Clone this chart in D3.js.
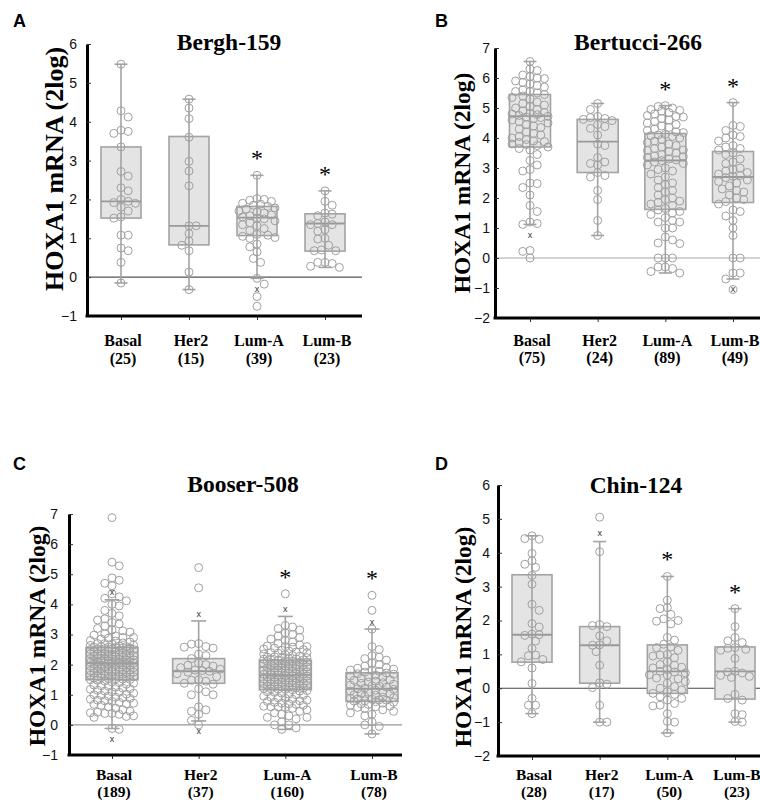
<!DOCTYPE html>
<html>
<head>
<meta charset="utf-8">
<script src="https://cdn.jsdelivr.net/npm/d3@7"></script>
<style>
  body { margin: 0; background: #fff; }
  svg text { font-family: "Liberation Serif", "Times New Roman", serif; }
  .panel-letter { font-family: "Liberation Sans", Arial, sans-serif; font-weight: bold; font-size: 18px; }
  .title { font-weight: bold; font-size: 23.5px; }
  .y-label { font-weight: bold; }
  .cat-label { font-weight: bold; }
  .tick text { font-family: "Liberation Sans", Arial, sans-serif; font-size: 14px; fill: #111; }
</style>
</head>
<body>
<svg id="chart" width="760" height="800"></svg>
<script>
const subtypes = ['Basal', 'Her2', 'Lum-A', 'Lum-B'];
const starred = [false, false, true, true];

// Bergh-159
const berghCounts = [25, 15, 39, 23];
// [lower whisker, q1, median, q3, upper whisker]
const berghBoxes = [
  [-0.15, 1.52, 1.95, 3.35, 5.48],
  [-0.32, 0.83, 1.32, 3.62, 4.58],
  [-0.03, 1.07, 1.53, 1.82, 2.62],
  [0.25, 0.67, 1.38, 1.63, 2.22]
];
const berghPoints = [
  [5.48, 4.28, 4.12, 3.78, 3.75, 3.7, 3.35, 2.72, 2.6, 2.3, 2.22, 2.0, 1.95, 1.92, 1.9, 1.8, 1.7, 1.55, 1.52, 1.08, 1.08, 0.75, 0.68, 0.38, -0.15],
  [4.58, 4.35, 4.08, 3.6, 2.98, 2.73, 2.35, 1.32, 1.32, 1.12, 0.93, 0.82, 0.68, 0.13, -0.32],
  [2.62, 2.02, 2.0, 1.98, 1.95, 1.9, 1.88, 1.85, 1.82, 1.78, 1.75, 1.7, 1.68, 1.65, 1.6, 1.58, 1.55, 1.52, 1.5, 1.45,
   1.4, 1.35, 1.32, 1.25, 1.2, 1.1, 1.08, 1.05, 1.02, 1.0, 0.85, 0.78, 0.65, 0.48, 0.38, -0.03, -0.18, -0.5, -0.75],
  [2.22, 1.95, 1.85, 1.65, 1.62, 1.58, 1.42, 1.38, 1.35, 1.35, 1.22, 1.18, 1.0, 0.98, 0.82, 0.7, 0.68, 0.68, 0.38, 0.38, 0.35, 0.28, 0.25]
];
const berghOutliers = [[], [], [-0.32], []];

// Bertucci-266
const bertucciCounts = [75, 24, 89, 49];
const bertucciBoxes = [
  [1.12, 3.7, 4.73, 5.45, 6.55],
  [0.75, 2.85, 3.88, 4.62, 5.15],
  [-0.5, 1.62, 3.25, 4.15, 5.08],
  [-0.7, 1.85, 2.7, 3.55, 5.18]
];
const bertucciPoints = [
  [6.55, 6.3, 6.25, 6.1, 6.05, 6.0, 5.98, 5.9, 5.85, 5.8, 5.75, 5.7, 5.6, 5.55, 5.55, 5.5, 5.45, 5.4, 5.35, 5.3,
   5.2, 5.15, 5.1, 5.05, 5.0, 4.95, 4.9, 4.85, 4.82, 4.8, 4.78, 4.75, 4.72, 4.7, 4.68, 4.65, 4.6, 4.55, 4.5, 4.45,
   4.4, 4.35, 4.3, 4.2, 4.15, 4.1, 4.05, 4.0, 3.95, 3.9, 3.88, 3.85, 3.8, 3.78, 3.75, 3.7, 3.65, 3.6, 3.45, 3.25,
   3.1, 2.95, 2.9, 2.5, 2.48, 2.35, 2.1, 1.75, 1.55, 1.2, 1.15, 1.12, 0.25, 0.22, 0.0],
  [5.15, 4.95, 4.72, 4.68, 4.65, 4.62, 4.58, 4.45, 4.38, 4.32, 4.1, 3.8, 3.75, 3.35, 3.2, 3.15, 3.1, 2.85, 2.75, 2.7,
   2.25, 1.95, 1.25, 0.75],
  [5.08, 5.05, 5.0, 4.95, 4.92, 4.9, 4.85, 4.8, 4.75, 4.72, 4.7, 4.65, 4.6, 4.55, 4.5, 4.45, 4.4, 4.35, 4.3, 4.25,
   4.2, 4.18, 4.12, 4.1, 4.08, 4.05, 4.0, 3.95, 3.9, 3.85, 3.8, 3.75, 3.7, 3.65, 3.6, 3.58, 3.55, 3.5, 3.45, 3.4,
   3.38, 3.35, 3.3, 3.27, 3.25, 3.2, 3.15, 3.1, 3.0, 2.95, 2.9, 2.8, 2.7, 2.6, 2.5, 2.45, 2.35, 2.25, 2.2, 2.1,
   2.0, 1.95, 1.9, 1.85, 1.8, 1.75, 1.65, 1.6, 1.55, 1.5, 1.45, 1.35, 1.25, 1.2, 1.2, 1.0, 1.0, 0.7, 0.6, 0.5,
   0.48, 0.0, 0.0, 0.0, -0.3, -0.3, -0.35, -0.45, -0.5],
  [5.18, 4.42, 4.38, 4.25, 4.1, 4.05, 4.0, 3.9, 3.75, 3.7, 3.65, 3.6, 3.5, 3.45, 3.3, 3.2, 3.15, 3.0, 2.95, 2.9,
   2.85, 2.8, 2.75, 2.72, 2.68, 2.6, 2.55, 2.5, 2.4, 2.3, 2.25, 2.2, 2.1, 2.0, 1.95, 1.88, 1.8, 1.6, 1.55, 1.4,
   1.25, 1.0, 0.75, 0.0, 0.0, -0.5, -0.5, -0.7, -1.05]
];
const bertucciOutliers = [[0.75], [], [], [-1.05]];

// Booser-508
const booserCounts = [189, 37, 160, 78];
const booserBoxes = [
  [-0.12, 1.5, 2.05, 2.57, 4.15],
  [0.13, 1.38, 1.78, 2.2, 3.45],
  [-0.15, 1.17, 1.65, 2.15, 3.6],
  [-0.3, 0.78, 1.2, 1.73, 3.18]
];
const booserPoints = [
  [6.88, 5.4, 5.28, 4.88, 4.8, 4.7, 4.62, 4.35, 4.25, 4.2, 4.12, 4.0, 3.95, 3.8, 3.7, 3.62, 3.52, 3.48, 3.4, 3.35,
   3.28, 3.2, 3.15, 3.12, 3.08, 3.02, 2.98, 2.95, 2.9, 2.88, 2.85, 2.8, 2.78, 2.75, 2.72, 2.7, 2.68, 2.65, 2.64, 2.62,
   2.6, 2.6, 2.58, 2.58, 2.57, 2.7, 2.9,
   2.56, 2.55, 2.53, 2.52, 2.5, 2.5, 2.48, 2.47, 2.45, 2.43, 2.42, 2.4, 2.38, 2.37, 2.35, 2.33, 2.32, 2.3, 2.3, 2.28,
   2.26, 2.25, 2.22, 2.2, 2.2, 2.18, 2.17, 2.15, 2.14, 2.12, 2.12, 2.1, 2.1, 2.09, 2.08, 2.07, 2.06, 2.06, 2.05,
   2.44, 2.36, 2.27, 2.19, 2.11, 2.52, 2.29, 2.16,
   2.04, 2.03, 2.02, 2.0, 2.0, 1.98, 1.97, 1.95, 1.94, 1.92, 1.9, 1.9, 1.88, 1.87, 1.85, 1.84, 1.82, 1.8, 1.8, 1.78,
   1.77, 1.75, 1.74, 1.72, 1.7, 1.7, 1.68, 1.67, 1.65, 1.64, 1.62, 1.6, 1.6, 1.58, 1.57, 1.55, 1.54, 1.52, 1.51, 1.5,
   1.99, 1.91, 1.83, 1.76, 1.69, 1.61, 1.53,
   1.48, 1.45, 1.42, 1.4, 1.38, 1.35, 1.32, 1.3, 1.28, 1.25, 1.22, 1.2, 1.18, 1.15, 1.12, 1.1, 1.08, 1.05, 1.02, 1.0,
   0.98, 0.95, 0.92, 0.9, 0.88, 0.85, 0.82, 0.8, 0.78, 0.75, 0.72, 0.7, 0.68, 0.65, 0.6, 0.55, 0.5, 0.45, 0.42, 0.4,
   0.38, 0.38, 0.35, 0.3, 0.28, 0.25, -0.12, -0.15],
  [5.22, 4.55, 2.7, 2.68, 2.6, 2.58, 2.55, 2.35, 2.3, 2.2, 2.05, 2.0, 1.98, 1.95, 1.9, 1.85, 1.82, 1.8, 1.78, 1.75,
   1.7, 1.6, 1.5, 1.48, 1.45, 1.38, 1.35, 1.2, 1.1, 1.0, 1.0, 0.6, 0.5, 0.45, 0.35, 0.15, 0.0],
  [4.35, 3.3, 3.25, 3.2, 3.15, 3.05, 3.0, 2.95, 2.9, 2.85, 2.8, 2.75, 2.7, 2.65, 2.62, 2.6, 2.58, 2.55, 2.52, 2.5,
   2.48, 2.45, 2.42, 2.4, 2.38, 2.35, 2.33, 2.3, 2.28, 2.26, 2.25, 2.23, 2.22, 2.2, 2.19, 2.18, 2.17, 2.16, 2.6, 2.4,
   2.14, 2.13, 2.12, 2.1, 2.08, 2.06, 2.05, 2.03, 2.02, 2.0, 1.98, 1.97, 1.95, 1.94, 1.92, 1.9, 1.89, 1.88, 1.86, 1.85,
   1.83, 1.82, 1.8, 1.79, 1.78, 1.76, 1.75, 1.74, 1.72, 1.71, 1.7, 1.69, 1.68, 1.67, 1.66, 2.09, 1.99, 1.91, 1.81, 1.73,
   1.64, 1.63, 1.62, 1.6, 1.59, 1.58, 1.56, 1.55, 1.54, 1.52, 1.51, 1.5, 1.48, 1.47, 1.46, 1.45, 1.43, 1.42, 1.41, 1.4,
   1.38, 1.37, 1.36, 1.35, 1.33, 1.32, 1.31, 1.3, 1.28, 1.27, 1.26, 1.25, 1.23, 1.22, 1.21, 1.2, 1.19, 1.18, 1.57, 1.39,
   1.16, 1.14, 1.12, 1.1, 1.08, 1.05, 1.02, 1.0, 0.98, 0.95, 0.92, 0.9, 0.88, 0.85, 0.82, 0.8, 0.78, 0.75, 0.72, 0.7,
   0.68, 0.65, 0.62, 0.6, 0.6, 0.58, 0.55, 0.5, 0.45, 0.4, 0.35, 0.3, 0.25, 0.25, 0.2, 0.1, 0.0, 0.0, -0.1, -0.15],
  [4.3, 3.8, 3.18, 2.6, 2.5, 2.3, 2.25, 2.2, 2.15, 2.05, 2.0, 1.95, 1.9, 1.88, 1.85, 1.82, 1.8, 1.78, 1.75,
   1.72, 1.7, 1.68, 1.65, 1.62, 1.6, 1.58, 1.55, 1.5, 1.48, 1.45, 1.42, 1.4, 1.38, 1.35, 1.32, 1.3, 1.28, 1.25, 1.22,
   1.2, 1.18, 1.15, 1.12, 1.1, 1.08, 1.05, 1.02, 1.0, 0.98, 0.95, 0.92, 0.9, 0.88, 0.86, 0.85, 0.83, 0.82, 0.8, 0.79,
   0.77, 0.75, 0.72, 0.7, 0.68, 0.65, 0.62, 0.6, 0.58, 0.55, 0.5, 0.45, 0.4, 0.35, 0.3, 0.1, 0.0, -0.05, -0.3]
];
const booserOutliers = [[4.4, -0.48], [3.68, -0.22], [3.83], [3.4]];

// Chin-124
const chinCounts = [28, 17, 50, 23];
const chinBoxes = [
  [-0.75, 0.77, 1.58, 3.35, 4.5],
  [-1.0, 0.15, 1.27, 1.82, 4.33],
  [-1.32, -0.15, 0.5, 1.28, 3.3],
  [-1.0, -0.32, 0.5, 1.22, 2.35]
];
const chinPoints = [
  [4.5, 4.42, 4.4, 3.98, 3.76, 3.66, 3.57, 3.33, 3.07, 2.48, 2.3, 1.91, 1.81, 1.6, 1.58, 1.56, 1.39, 1.18, 0.98, 0.96,
   0.85, 0.78, 0.6, 0.14, -0.3, -0.5, -0.5, -0.75],
  [5.05, 4.03, 1.88, 1.85, 1.82, 1.55, 1.4, 1.28, 1.27, 1.08, 0.68, 0.16, 0.12, 0.02, -0.5, -1.0, -1.0],
  [3.3, 2.6, 2.38, 2.35, 2.18, 2.05, 2.0, 1.98, 1.9, 1.5, 1.42, 1.3, 1.22, 1.2, 1.12, 1.0, 0.98, 0.95, 0.9, 0.78,
   0.7, 0.68, 0.62, 0.6, 0.55, 0.5, 0.48, 0.45, 0.4, 0.38, 0.3, 0.28, 0.2, 0.15, 0.05, 0.0, -0.05, -0.1, -0.15, -0.18,
   -0.25, -0.3, -0.35, -0.45, -0.5, -0.52, -0.75, -0.98, -1.0, -1.32],
  [2.35, 1.82, 1.5, 1.4, 1.35, 1.2, 1.18, 1.15, 1.12, 0.88, 0.5, 0.48, 0.45, 0.38, 0.35, 0.32, -0.18, -0.3, -0.35,
   -0.75, -0.78, -0.98, -1.0]
];
const chinOutliers = [[], [4.58], [], []];

// layout of the four panels
const panels = [
  {letter: 'A', title: 'Bergh-159', counts: berghCounts, boxes: berghBoxes, points: berghPoints, outliers: berghOutliers,
   domain: [-1, 6], yTop: 44, yBottom: 316, axisX: 87, axisEnd: 362, xRange: [121, 325], boxW: 40, capW: 13,
   tickGap: 10, zeroColor: '#555', titleX: 229, titleY: 50, letterX: 13, letterY: 27,
   yLabX: 54, yLabY: 169, yLabSize: 26, catY: [346, 364], catSize: 16},
  {letter: 'B', title: 'Bertucci-266', counts: bertucciCounts, boxes: bertucciBoxes, points: bertucciPoints, outliers: bertucciOutliers,
   domain: [-2, 7], yTop: 48, yBottom: 318, axisX: 495, axisEnd: 760, xRange: [530, 733], boxW: 41, capW: 13,
   tickGap: 5, zeroColor: '#aaa', titleX: 638, titleY: 50, letterX: 435, letterY: 27,
   yLabX: 462, yLabY: 183, yLabSize: 23.5, catY: [346, 363], catSize: 16},
  {letter: 'C', title: 'Booser-508', counts: booserCounts, boxes: booserBoxes, points: booserPoints, outliers: booserOutliers,
   domain: [-1, 7], yTop: 514, yBottom: 755, axisX: 69, axisEnd: 402, xRange: [112, 372], boxW: 52, capW: 15,
   tickGap: 11, zeroColor: '#999', titleX: 243, titleY: 492, letterX: 13, letterY: 470,
   yLabX: 37, yLabY: 636, yLabSize: 23.5, catY: [780, 797], catSize: 15.5},
  {letter: 'D', title: 'Chin-124', counts: chinCounts, boxes: chinBoxes, points: chinPoints, outliers: chinOutliers,
   domain: [-2, 6], yTop: 485, yBottom: 756, axisX: 498, axisEnd: 760, xRange: [532, 735], boxW: 40, capW: 13,
   tickGap: 8, zeroColor: '#444', titleX: 636, titleY: 493, letterX: 435, letterY: 470,
   yLabX: 463, yLabY: 637, yLabSize: 23.5, catY: [780, 797], catSize: 15.5}
];

const pointR = 4;

// simple beeswarm: put each point as close to the centre as it fits, overlap when crowded
function swarm(values, y, r, maxDx) {
  const placed = [];
  const out = values.map(() => 0);
  const step = r * 0.9;
  const order = d3.range(values.length).sort((a, b) => values[b] - values[a]);
  order.forEach((i, k) => {
    const py = y(values[i]);
    const near = placed.filter(p => Math.abs(p.y - py) < 2 * r);
    const sign = k % 2 ? -1 : 1;
    let best = 0, bestGap = -1, done = false;
    for (let s = 0; s * step <= maxDx && !done; s++) {
      for (const dir of (s ? [sign, -sign] : [1])) {
        const dx = dir * s * step;
        const gap = near.length ? d3.min(near, p => Math.hypot(p.x - dx, p.y - py)) : Infinity;
        if (gap >= 1.8 * r) { best = dx; done = true; break; }
        if (gap > bestGap) { bestGap = gap; best = dx; }
      }
    }
    out[i] = best;
    placed.push({x: best, y: py});
  });
  return out;
}

const svg = d3.select('#chart');

function drawPanel(p) {
  const g = svg.append('g');
  const y = d3.scaleLinear().domain(p.domain).range([p.yBottom, p.yTop]);
  const x = d3.scalePoint().domain(subtypes).range(p.xRange);

  // zero reference line
  g.append('line')
      .attr('x1', p.axisX).attr('x2', p.axisEnd)
      .attr('y1', y(0)).attr('y2', y(0))
      .attr('stroke', p.zeroColor).attr('stroke-width', 1.2);

  subtypes.forEach((s, i) => {
    const cx = x(s);
    const [lo, q1, med, q3, hi] = p.boxes[i];
    const grp = g.append('g');

    grp.append('rect')
        .attr('x', cx - p.boxW / 2).attr('width', p.boxW)
        .attr('y', y(q3)).attr('height', y(q1) - y(q3))
        .attr('fill', '#e4e4e4').attr('stroke', '#a3a3a3').attr('stroke-width', 1.6);

    grp.append('line')
        .attr('x1', cx).attr('x2', cx).attr('y1', y(lo)).attr('y2', y(hi))
        .attr('stroke', '#a3a3a3').attr('stroke-width', 1.6);

    grp.selectAll('.cap')
        .data([lo, hi])
      .join('line')
        .attr('class', 'cap')
        .attr('x1', cx - p.capW / 2).attr('x2', cx + p.capW / 2)
        .attr('y1', d => y(d)).attr('y2', d => y(d))
        .attr('stroke', '#a3a3a3').attr('stroke-width', 1.6);

    grp.append('line')
        .attr('x1', cx - p.boxW / 2).attr('x2', cx + p.boxW / 2)
        .attr('y1', y(med)).attr('y2', y(med))
        .attr('stroke', '#999').attr('stroke-width', 1.8);

    const vals = p.points[i];
    const offs = swarm(vals, y, pointR, p.boxW / 2 - 1);
    grp.selectAll('.pt')
        .data(vals)
      .join('circle')
        .attr('class', 'pt')
        .attr('cx', (d, j) => cx + offs[j])
        .attr('cy', d => y(d))
        .attr('r', pointR)
        .attr('fill', 'none')
        .attr('stroke', '#a0a0a0')
        .attr('stroke-width', 1);

    grp.selectAll('.outlier')
        .data(p.outliers[i])
      .join('text')
        .attr('class', 'outlier')
        .attr('x', cx).attr('y', d => y(d))
        .attr('text-anchor', 'middle').attr('dy', '0.3em')
        .style('font-family', '"Liberation Sans", Arial, sans-serif')
        .style('font-size', '9px').attr('fill', '#333')
        .text('x');

    if (starred[i]) {
      const top = d3.min([y(hi), y(d3.max(vals))]);
      grp.append('text')
          .attr('x', cx).attr('y', top - 9)
          .attr('text-anchor', 'middle')
          .style('font-size', '24px')
          .text('*');
    }

    // category labels
    g.append('text').attr('class', 'cat-label')
        .attr('x', cx + 2).attr('y', p.catY[0])
        .attr('text-anchor', 'middle').style('font-size', p.catSize + 'px')
        .text(s);
    g.append('text').attr('class', 'cat-label')
        .attr('x', cx + 2).attr('y', p.catY[1])
        .attr('text-anchor', 'middle').style('font-size', p.catSize + 'px')
        .text(`(${p.counts[i]})`);
  });

  // y axis
  const yAxis = g.append('g')
      .attr('transform', `translate(${p.axisX},0)`)
      .call(d3.axisLeft(y)
        .tickValues(d3.range(p.domain[0], p.domain[1] + 1))
        .tickSize(-4).tickSizeOuter(0).tickPadding(p.tickGap)
        .tickFormat(d3.format('d')));
  yAxis.select('.domain').attr('stroke', '#000').attr('stroke-width', 3);
  yAxis.selectAll('.tick line').attr('stroke', '#333');

  // x axis
  const xAxis = g.append('g')
      .attr('transform', `translate(0,${p.yBottom})`)
      .call(d3.axisBottom(x).tickSize(4).tickFormat(''));
  xAxis.select('.domain').remove();
  xAxis.selectAll('.tick line').attr('stroke', '#333');
  g.append('line')
      .attr('x1', p.axisX - 1.5).attr('x2', p.axisEnd)
      .attr('y1', p.yBottom).attr('y2', p.yBottom)
      .attr('stroke', '#000').attr('stroke-width', 3);

  // texts
  g.append('text').attr('class', 'title')
      .attr('x', p.titleX).attr('y', p.titleY)
      .attr('text-anchor', 'middle')
      .text(p.title);
  g.append('text').attr('class', 'panel-letter')
      .attr('x', p.letterX).attr('y', p.letterY)
      .text(p.letter);
  g.append('text').attr('class', 'y-label')
      .attr('transform', `translate(${p.yLabX},${p.yLabY}) rotate(-90)`)
      .attr('text-anchor', 'middle').attr('dominant-baseline', 'central')
      .style('font-size', p.yLabSize + 'px')
      .text('HOXA1 mRNA (2log)');
}

panels.forEach(drawPanel);
</script>
</body>
</html>
